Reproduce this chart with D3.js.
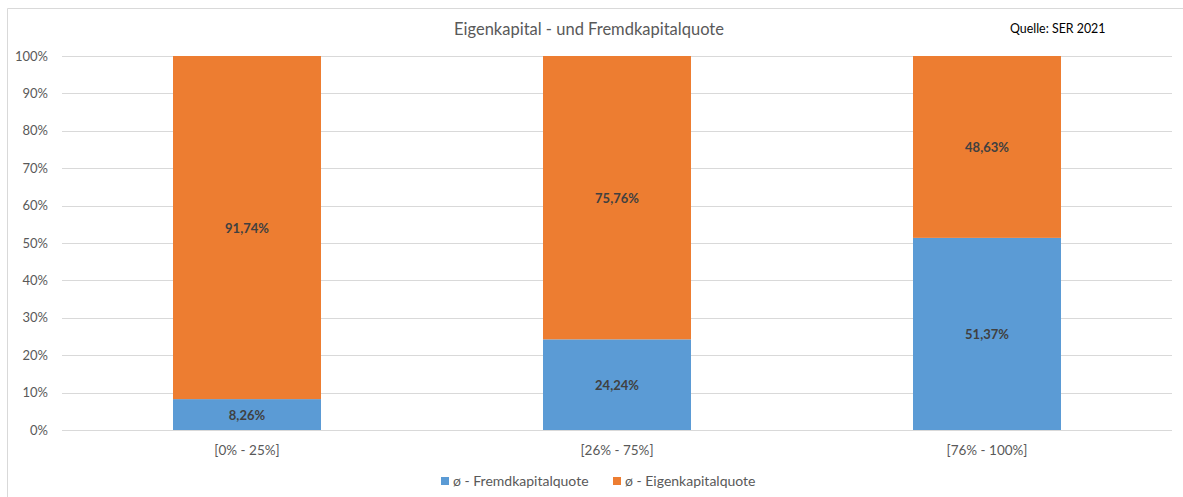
<!DOCTYPE html>
<html>
<head>
<meta charset="utf-8">
<script src="https://cdn.jsdelivr.net/npm/d3@7"></script>
<style>
  body { margin: 0; background: #fff; }
  text { font-family: Lato, "Open Sans", sans-serif; }
</style>
</head>
<body>
<div id="vis"></div>
<script>
// chart data
var categories = ["[0% - 25%]", "[26% - 75%]", "[76% - 100%]"];
var fremdkapital = [8.26, 24.24, 51.37];
var eigenkapital = [91.74, 75.76, 48.63];
var seriesNames = ["ø - Fremdkapitalquote", "ø - Eigenkapitalquote"];
var yTicks = [0, 10, 20, 30, 40, 50, 60, 70, 80, 90, 100];

var W = 1183, H = 497;
var blue = "#5b9bd5", orange = "#ed7d31";

var svg = d3.select("#vis").append("svg")
    .attr("width", W)
    .attr("height", H);

// outer chart frame (cut off at right and bottom)
svg.append("path")
    .attr("d", "M7.5," + H + "V8.5H" + W)
    .attr("fill", "none")
    .attr("stroke", "#d9d9d9");

var x = d3.scaleBand()
    .domain(categories)
    .range([62, 1172])
    .paddingInner(0.6)
    .paddingOuter(0.3);

var y = d3.scaleLinear()
    .domain([0, 100])
    .range([430, 56]);

// gridlines
svg.append("g")
    .selectAll("line")
    .data(yTicks)
    .join("line")
    .attr("x1", 62)
    .attr("x2", 1172)
    .attr("y1", function (d) { return Math.round(y(d)) + 0.5; })
    .attr("y2", function (d) { return Math.round(y(d)) + 0.5; })
    .attr("stroke", "#d9d9d9")
    .attr("stroke-width", 1);

// y axis
var yAxis = svg.append("g")
    .attr("transform", "translate(51,0)")
    .call(d3.axisLeft(y).tickValues(yTicks).tickSize(0).tickFormat(function (d) { return d + "%"; }));
yAxis.select(".domain").remove();
yAxis.selectAll("text")
    .attr("fill", "#595959")
    .style("font-size", "13px")
    .style("font-family", "Lato, 'Open Sans', sans-serif");

// x axis
var xAxis = svg.append("g")
    .attr("transform", "translate(0,442)")
    .call(d3.axisBottom(x).tickSize(0));
xAxis.select(".domain").remove();
xAxis.selectAll("text")
    .attr("fill", "#595959")
    .style("font-size", "13.5px")
    .style("font-family", "Lato, 'Open Sans', sans-serif");

// stacked bars
var rows = categories.map(function (c, i) {
    return { cat: c, f: fremdkapital[i], e: eigenkapital[i] };
});
var stack = d3.stack().keys(["f", "e"])(rows);
var colors = [blue, orange];

var layers = svg.selectAll(".layer")
    .data(stack)
    .join("g")
    .attr("class", "layer")
    .attr("fill", function (d, i) { return colors[i]; });

layers.selectAll("rect")
    .data(function (d) { return d; })
    .join("rect")
    .attr("x", function (d) { return x(d.data.cat); })
    .attr("width", x.bandwidth())
    .attr("y", function (d) { return y(d[1]); })
    .attr("height", function (d) { return y(d[0]) - y(d[1]); });

layers.selectAll("text")
    .data(function (d) { return d; })
    .join("text")
    .attr("x", function (d) { return x(d.data.cat) + x.bandwidth() / 2; })
    .attr("y", function (d) { return y((d[0] + d[1]) / 2) + 1; })
    .attr("dy", "0.35em")
    .attr("text-anchor", "middle")
    .attr("fill", "#404040")
    .style("font-size", "13px")
    .style("font-weight", "bold")
    .text(function (d) { return d3.format(".2f")(d[1] - d[0]).replace(".", ",") + "%"; });

// title
svg.append("text")
    .attr("x", 589)
    .attr("y", 29)
    .attr("dy", "0.35em")
    .attr("text-anchor", "middle")
    .attr("fill", "#595959")
    .style("font-size", "16.5px")
    .text("Eigenkapital - und Fremdkapitalquote");

svg.append("text")
    .attr("x", 1010)
    .attr("y", 29)
    .attr("dy", "0.35em")
    .attr("fill", "#000")
    .style("font-size", "12.4px")
    .text("Quelle: SER 2021");

// legend
var legendX = [441, 613];
var legend = svg.selectAll(".legend")
    .data(seriesNames)
    .join("g")
    .attr("class", "legend")
    .attr("transform", function (d, i) { return "translate(" + legendX[i] + ",481)"; });

legend.append("rect")
    .attr("x", 0)
    .attr("y", -4)
    .attr("width", 8)
    .attr("height", 8)
    .attr("fill", function (d, i) { return colors[i]; });

legend.append("text")
    .attr("x", 12)
    .attr("dy", "0.35em")
    .attr("fill", "#595959")
    .style("font-size", "14px")
    .text(function (d) { return d; });
</script>
</body>
</html>
